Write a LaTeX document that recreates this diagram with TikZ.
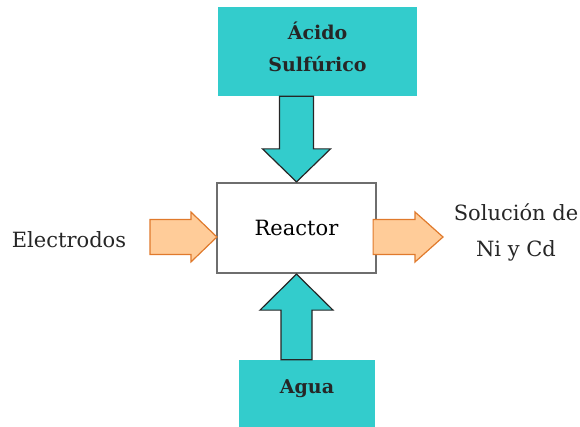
\documentclass[tikz,border=0pt]{standalone}
\usepackage{fontspec}
\setmainfont{DejaVu Serif}
\usetikzlibrary{calc}

\definecolor{turq}{HTML}{33CCCC}
\definecolor{peach}{HTML}{FFCC99}
\definecolor{rust}{HTML}{E07A2C}
\definecolor{boxline}{HTML}{6E6E6E}

\begin{document}
\begin{tikzpicture}[x=1pt, y=-1pt,
    font=\fontsize{21}{36}\selectfont,
    shaft/.store in=\shaftw, head/.store in=\headw, tiplen/.store in=\tipl,
    % block arrow built from the start and tip coordinates
    fat/.style={line join=miter, to path={
        ($(\tikztostart)!\shaftw!90:(\tikztotarget)$)
        -- ($(\tikztotarget)!\tipl!(\tikztostart)!\shaftw!90:(\tikztotarget)$)
        -- ($(\tikztotarget)!\tipl!(\tikztostart)!\headw!90:(\tikztotarget)$)
        -- (\tikztotarget)
        -- ($(\tikztotarget)!\tipl!(\tikztostart)!\headw!-90:(\tikztotarget)$)
        -- ($(\tikztotarget)!\tipl!(\tikztostart)!\shaftw!-90:(\tikztotarget)$)
        -- ($(\tikztostart)!\shaftw!-90:(\tikztotarget)$) -- cycle}},
    feed/.style = {fat, draw=black!85, fill=turq, line width=1.2pt},
    side/.style = {fat, draw=rust, fill=peach, line width=1.2pt, shaft=17.5pt, head=25pt, tiplen=26pt},
    supply/.style = {rectangle, fill=turq, inner sep=0pt},
    supplytext/.style = {align=center, inner sep=0pt, text=black!85, font=\fontsize{19}{32}\selectfont\bfseries},
    unit/.style = {rectangle, draw=boxline, fill=white, line width=2.2pt, inner sep=0pt},
    label/.style = {align=center, inner sep=0pt, text=black!85}]

    \useasboundingbox (0,0) rectangle (580,427);

    \node[supply, minimum width=199pt, minimum height=89pt] (acido) at (317.5,51.5) {};
    \node[supplytext] (acidotxt) at ($(acido)+(0,-5)$) {Ácido\\Sulfúrico};
    \node[unit, minimum width=159pt, minimum height=90pt] (reactor) at (296.5,228) {Reactor};
    \node[supply, minimum width=136pt, minimum height=67pt] (agua) at (307,393.5) {};
    \node[supplytext] (aguatxt) at ($(agua)+(0,-5)$) {Agua};
    \node[label] (electrodos) at (69,240) {Electrodos};
    \node[label] (solucion) at (516,232) {Solución de\\Ni y Cd};

    \coordinate (ein) at (150,237);
    \coordinate (eout) at ($(reactor.west)+(1,9)$);
    \coordinate (sin) at ($(reactor.east)+(-4,9)$);
    \coordinate (sout) at (443,237);

    \draw[feed, shaft=17pt, head=34pt, tiplen=33pt] (reactor.north |- acido.south) to (reactor.north);
    \draw[feed, shaft=15.5pt, head=36.5pt, tiplen=36pt] (reactor.south |- agua.north) to (reactor.south);
    \draw[side] (ein) to (eout);
    \draw[side, tiplen=28pt] (sin) to (sout);
\end{tikzpicture}
\end{document}
